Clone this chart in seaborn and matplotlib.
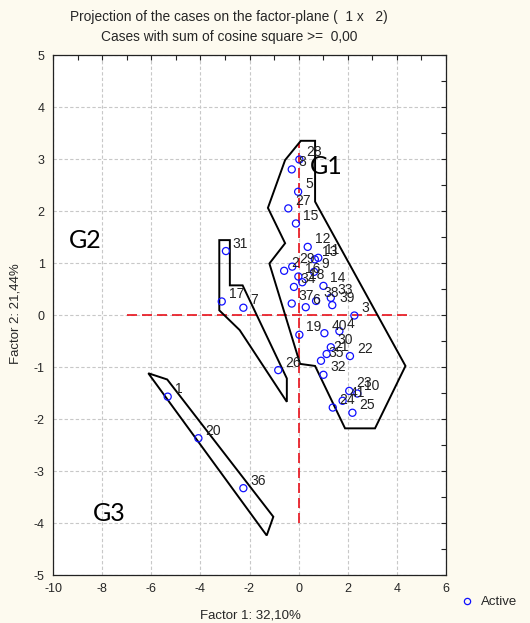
import numpy as np
import pandas as pd
import matplotlib
matplotlib.use("Agg")
import matplotlib.pyplot as plt
from matplotlib.ticker import MultipleLocator
from matplotlib.lines import Line2D
import seaborn as sns

# ---- data -------------------------------------------------------------
case_ids = list(range(1, 42))
factor1 = [-5.33, -0.59, 2.27, 1.66, -0.02, 0.29, -2.25, -0.28, 0.63, 2.39,
           0.80, 0.37, 0.66, 1.01, -0.11, -0.01, -3.13, 0.15, 0.03, -4.08,
           1.14, 2.09, 2.06, 1.39, 2.19, -0.83, -0.42, 0.03, -0.26, 1.31,
           -2.96, 1.01, 1.31, -0.19, 0.91, -2.25, -0.28, 0.71, 1.37, 1.05,
           1.79]
factor2 = [-1.57, 0.85, -0.01, -0.31, 2.37, 0.15, 0.14, 2.80, 0.83, -1.51,
           1.10, 1.31, 1.07, 0.56, 1.76, 0.74, 0.26, 0.63, -0.38, -2.37,
           -0.75, -0.79, -1.46, -1.78, -1.88, -1.06, 2.05, 2.99, 0.93, -0.62,
           1.23, -1.15, 0.33, 0.54, -0.88, -3.33, 0.22, 0.27, 0.19, -0.35,
           -1.65]

g1_x = [0.09, 0.67, 0.67, 4.35, 3.11, 1.89, 0.67, 0.06, -1.19, -0.55, -1.25, -0.55]
g1_y = [3.35, 3.35, 2.18, -0.98, -2.18, -2.18, -0.98, -0.94, 0.99, 1.38, 2.06, 2.98]
g2_x = [-3.23, -2.80, -2.80, -2.28, -0.48, -0.48, -2.40, -3.23]
g2_y = [1.44, 1.44, 0.57, 0.57, -1.22, -1.67, -0.29, 0.09]
g3_x = [-6.12, -5.35, -1.03, -1.30]
g3_y = [-1.12, -1.24, -3.88, -4.24]

group_names = ["G1", "G2", "G3"]
group_lab_x = [1.13, -8.69, -7.72]
group_lab_y = [2.85, 1.44, -3.81]

ref_h_x = [-7.0, 4.5]
ref_v_y = [-4.0, 3.3]

title_lines = ["Projection of the cases on the factor-plane (  1 x   2)",
               "Cases with sum of cosine square >=  0,00"]
xlabel = "Factor 1: 32,10%"
ylabel = "Factor 2: 21,44%"

df = pd.DataFrame({"Factor 1": factor1, "Factor 2": factor2, "case": case_ids})

# ---- figure -----------------------------------------------------------
sns.set_style("white")
plt.rcParams["font.family"] = ["Liberation Sans", "DejaVu Sans"]
plt.rcParams["axes.unicode_minus"] = False
bg = "#fdfaef"
fig = plt.figure(figsize=(5.30, 6.23), dpi=100, facecolor=bg)
ax = fig.add_axes([53 / 530, 1 - 575 / 623, (446 - 53) / 530, (575 - 55) / 623])
ax.set_facecolor("white")

ax.set_xlim(-10, 6)
ax.set_ylim(-5, 5)
ax.xaxis.set_major_locator(MultipleLocator(2))
ax.xaxis.set_minor_locator(MultipleLocator(1))
ax.yaxis.set_major_locator(MultipleLocator(1))
ax.yaxis.set_minor_locator(MultipleLocator(0.5))
ax.grid(True, which="major", color="#c8c8c8", linestyle=(0, (3, 2)), linewidth=0.8)
ax.set_axisbelow(True)
ax.tick_params(which="both", direction="in", top=True, right=True,
               length=3.5, width=0.8, color="#222222", labelsize=9, pad=6)
for s in ax.spines.values():
    s.set_color("#222222")
    s.set_linewidth(0.9)

# reference lines
ax.plot(ref_h_x, [0, 0], color="#e8101a", linestyle=(0, (6, 3)), linewidth=1.2, zorder=2)
ax.plot([0, 0], ref_v_y, color="#e8101a", linestyle=(0, (6, 3)), linewidth=1.2, zorder=2)

# group polygons
for gx, gy in [(g1_x, g1_y), (g2_x, g2_y), (g3_x, g3_y)]:
    ax.fill(gx, gy, facecolor="none", edgecolor="black", linewidth=1.4, zorder=3)

# points
sns.scatterplot(data=df, x="Factor 1", y="Factor 2", ax=ax, marker="o",
                s=26, facecolors="none", edgecolor="#1010ff", linewidth=0.9,
                zorder=4, legend=False)

for cid, xv, yv in zip(case_ids, factor1, factor2):
    ax.annotate(str(cid), (xv, yv), xytext=(5, 2.5), textcoords="offset points",
                ha="left", va="baseline", fontsize=10, color="#222222", zorder=5)

for name, gx, gy in zip(group_names, group_lab_x, group_lab_y):
    ax.text(gx, gy, name, fontsize=18, family=["Lato", "DejaVu Sans"],
            ha="center", va="center", color="black", zorder=6)

ax.set_xlabel("")
ax.set_ylabel("")
fig.text(250 / 530, 1 - 615 / 623, xlabel, ha="center", va="center", fontsize=9.5)
fig.text(16 / 530, 1 - 314 / 623, ylabel, ha="center", va="center", fontsize=9.5,
         rotation=90)
fig.text(229 / 530, 1 - 17 / 623, title_lines[0], ha="center", va="center", fontsize=9.9)
fig.text(229 / 530, 1 - 37 / 623, title_lines[1], ha="center", va="center", fontsize=9.9)

# legend
h = Line2D([], [], marker="o", linestyle="none", markerfacecolor="none",
           markeredgecolor="#1010ff", markersize=4.5, markeredgewidth=0.9)
fig.legend([h], ["Active"], loc="center left", bbox_to_anchor=(460 / 530, 1 - 602 / 623),
           frameon=False, fontsize=9.5, handletextpad=0.6, handlelength=1.0,
           borderpad=0, borderaxespad=0)

fig.savefig("out.png", dpi=100, facecolor=bg)
